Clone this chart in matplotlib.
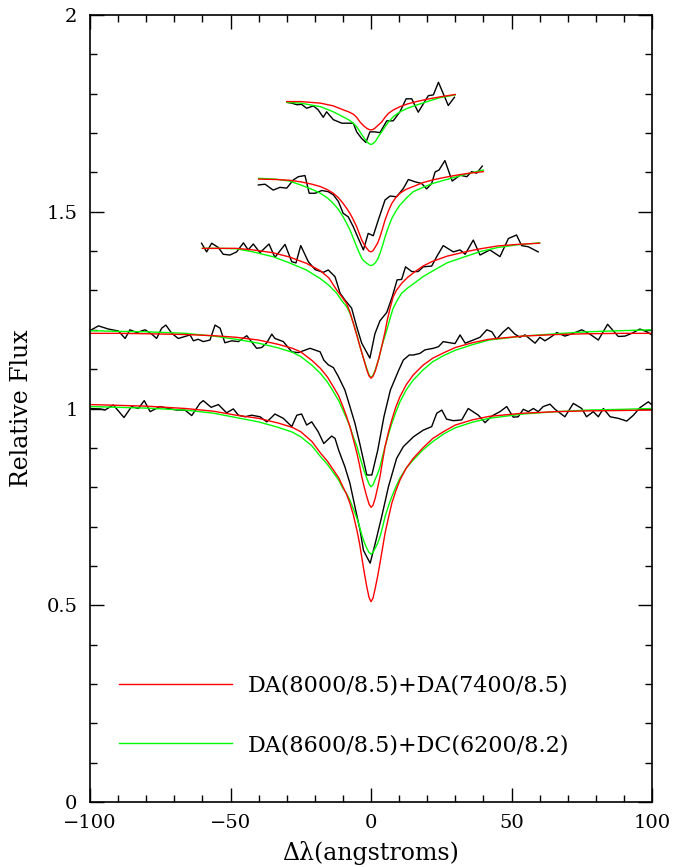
import matplotlib
matplotlib.use("Agg")
import matplotlib.pyplot as plt
from matplotlib.ticker import MultipleLocator, FuncFormatter

plt.rcParams['font.family'] = ['DejaVu Serif']

# observed spectra (black), offset by 0.2 each
spec_a_x = [-100, -96.4, -94.7, -91.7, -87.9, -85.2, -82.8, -80.7, -78.6, -75.1, -72.1, -69.1, -66.2, -63.8,
            -60.9, -59.7, -56.9, -54.3, -51.4, -49.0, -47.2, -44.8, -42.5, -39.5, -37.1, -35.3, -34.2, -31.2,
            -28.2, -26.4, -24.7, -22.9, -21.1, -18.8, -16.8, -14.0, -12.8, -11.5, -9.3, -7.5, -5.7, -3.9, -2.7,
            -1.5, -0.3, 1.5, 3.8, 6.2, 9.1, 11.5, 15.1, 18.6, 21.6, 23.4, 25.2, 26.9, 29.3, 32.3, 34.6, 38.2,
            40.6, 43.0, 45.9, 48.3, 50.6, 52.4, 54.2, 56.0, 57.8, 59.5, 61.3, 63.7, 65.5, 69.0, 72.0, 75.0,
            76.7, 79.1, 80.9, 82.7, 85.1, 88.0, 91.0, 93.4, 95.7, 98.7, 100]
spec_a_y = [1.000, 0.999, 0.996, 1.009, 0.977, 1.005, 1.000, 1.020, 0.992, 1.005, 1.000, 0.996, 0.996, 0.982,
            1.013, 1.020, 1.003, 1.010, 0.989, 0.999, 0.983, 0.979, 0.983, 0.979, 0.966, 0.978, 0.986, 0.975,
            0.954, 0.983, 0.986, 0.958, 0.966, 0.941, 0.911, 0.930, 0.924, 0.894, 0.852, 0.810, 0.750, 0.691,
            0.640, 0.623, 0.607, 0.657, 0.725, 0.801, 0.873, 0.903, 0.928, 0.945, 0.954, 0.988, 0.996, 0.973,
            0.969, 0.971, 1.000, 0.983, 0.964, 0.981, 0.992, 1.005, 0.978, 0.979, 0.998, 0.992, 1.000, 0.992,
            1.005, 1.011, 0.998, 0.979, 1.013, 1.000, 0.979, 0.992, 0.979, 1.000, 0.979, 0.975, 0.968, 0.983,
            1.002, 1.017, 1.009]

spec_b_x = [-100, -97.0, -93.5, -89.9, -87.5, -85.8, -83.4, -80.4, -78.0, -76.3, -74.5, -73.0, -70.9, -68.6,
            -66.2, -64.4, -63.2, -61.5, -59.7, -57.3, -55.5, -53.7, -52.0, -49.6, -47.2, -44.2, -40.7, -38.9,
            -37.1, -35.3, -34.2, -31.2, -28.2, -25.9, -21.7, -18.1, -16.8, -15.2, -13.4, -11.6, -9.3, -7.5,
            -5.7, -4.0, -1.5, 0.3, 2.4, 4.6, 6.9, 9.9, 11.5, 13.6, 15.1, 17.4, 19.2, 22.2, 24.0, 25.7, 28.1,
            29.9, 31.7, 33.5, 36.4, 38.8, 41.2, 43.0, 44.7, 47.1, 48.9, 51.2, 53.0, 54.8, 58.4, 60.1, 61.9,
            64.3, 66.1, 69.0, 72.0, 75.0, 77.9, 80.9, 84.2, 88.0, 90.4, 92.8, 95.7, 98.1, 100]
spec_b_y = [1.198, 1.210, 1.202, 1.197, 1.178, 1.200, 1.193, 1.200, 1.189, 1.178, 1.204, 1.212, 1.191, 1.178,
            1.183, 1.187, 1.172, 1.176, 1.170, 1.174, 1.212, 1.204, 1.167, 1.172, 1.170, 1.185, 1.153, 1.155,
            1.167, 1.189, 1.178, 1.170, 1.144, 1.142, 1.153, 1.144, 1.123, 1.111, 1.104, 1.081, 1.047, 1.005,
            0.962, 0.911, 0.831, 0.831, 0.894, 0.979, 1.047, 1.098, 1.123, 1.136, 1.136, 1.140, 1.149, 1.153,
            1.157, 1.170, 1.167, 1.165, 1.187, 1.166, 1.174, 1.181, 1.200, 1.195, 1.176, 1.195, 1.206, 1.189,
            1.181, 1.187, 1.166, 1.181, 1.172, 1.183, 1.193, 1.184, 1.191, 1.200, 1.189, 1.174, 1.214, 1.183,
            1.184, 1.191, 1.202, 1.195, 1.187]

spec_c_x = [-60.3, -58.5, -56.7, -54.3, -52.6, -50.2, -47.8, -45.4, -43.7, -41.9, -39.5, -36.3, -34.2, -30.6,
            -28.2, -26.7, -25.0, -22.3, -19.9, -17.0, -15.2, -12.8, -11.0, -9.3, -6.9, -5.1, -3.3, -0.4, 1.4,
            3.2, 5.6, 7.6, 9.3, 10.9, 12.3, 14.5, 16.8, 18.6, 21.6, 23.4, 25.7, 29.3, 31.7, 33.5, 36.4, 38.8,
            42.3, 45.9, 48.9, 51.8, 53.6, 56.0, 59.5]
spec_c_y = [1.420, 1.398, 1.420, 1.409, 1.392, 1.390, 1.398, 1.421, 1.403, 1.418, 1.396, 1.418, 1.384, 1.417,
            1.373, 1.370, 1.414, 1.373, 1.353, 1.346, 1.352, 1.335, 1.293, 1.276, 1.255, 1.208, 1.166, 1.128,
            1.190, 1.223, 1.244, 1.285, 1.327, 1.328, 1.360, 1.348, 1.348, 1.360, 1.362, 1.386, 1.414, 1.398,
            1.403, 1.392, 1.428, 1.390, 1.403, 1.386, 1.432, 1.441, 1.414, 1.411, 1.398]

spec_d_x = [-40.1, -37.7, -34.8, -32.4, -30.0, -27.6, -25.9, -23.5, -22.0, -19.9, -17.5, -15.2, -13.4, -11.6,
            -9.9, -8.1, -6.3, -4.5, -2.7, -1.0, 0.8, 2.6, 5.0, 6.8, 9.1, 11.5, 13.3, 15.7, 18.0, 19.8, 21.6,
            22.8, 24.2, 26.3, 28.9, 31.7, 34.1, 35.8, 37.6, 39.6]
spec_d_y = [1.568, 1.570, 1.555, 1.562, 1.560, 1.581, 1.589, 1.592, 1.547, 1.547, 1.554, 1.551, 1.543, 1.526,
            1.496, 1.487, 1.462, 1.432, 1.403, 1.445, 1.439, 1.479, 1.530, 1.540, 1.538, 1.559, 1.582, 1.576,
            1.572, 1.558, 1.572, 1.601, 1.606, 1.630, 1.578, 1.593, 1.589, 1.602, 1.598, 1.616]

spec_e_x = [-30.0, -28.2, -26.4, -24.7, -22.9, -20.5, -18.8, -17.0, -15.8, -13.4, -10.4, -8.7, -6.3, -5.1,
            -3.3, -1.8, -0.4, 1.4, 3.2, 5.6, 7.9, 10.3, 12.5, 14.5, 16.8, 20.4, 22.2, 24.0, 27.5, 29.7]
spec_e_y = [1.778, 1.776, 1.772, 1.773, 1.763, 1.769, 1.759, 1.740, 1.754, 1.734, 1.725, 1.725, 1.725, 1.703,
            1.686, 1.676, 1.703, 1.703, 1.701, 1.731, 1.731, 1.754, 1.787, 1.787, 1.753, 1.795, 1.797, 1.829,
            1.770, 1.791]

# model fits: red = DA+DA, green = DA+DC
model_ab_x = [-100, -90, -80, -66, -56, -48, -40, -33, -28, -25, -21, -18, -15.5, -13.4, -11.5, -10, -8.7,
              -7.5, -6.3, -5, -4.1, -3.3, -2.4, -1.5, -0.7, 0, 0.7, 1.5, 2.4, 3.2, 4.1, 5, 6.2, 7.4, 8.8,
              10.3, 12.5, 15, 18.5, 22, 26, 30, 36, 42, 54, 66, 77, 90, 100]
red_a = [1.010, 1.008, 1.006, 1.000, 0.993, 0.983, 0.975, 0.963, 0.952, 0.941, 0.916, 0.887, 0.866, 0.844,
         0.824, 0.801, 0.782, 0.759, 0.730, 0.690, 0.658, 0.623, 0.583, 0.547, 0.520, 0.509, 0.518, 0.543,
         0.575, 0.607, 0.645, 0.683, 0.722, 0.759, 0.790, 0.818, 0.848, 0.873, 0.900, 0.924, 0.942, 0.958,
         0.971, 0.980, 0.988, 0.992, 0.994, 0.995, 0.996]
green_a = [1.005, 1.003, 1.001, 0.996, 0.988, 0.977, 0.966, 0.952, 0.940, 0.928, 0.905, 0.878, 0.858, 0.837,
           0.818, 0.797, 0.784, 0.767, 0.745, 0.721, 0.700, 0.679, 0.660, 0.645, 0.634, 0.630, 0.634, 0.645,
           0.658, 0.674, 0.698, 0.725, 0.752, 0.776, 0.800, 0.823, 0.848, 0.869, 0.895, 0.916, 0.936, 0.951,
           0.965, 0.975, 0.986, 0.992, 0.996, 0.998, 1.000]
red_b = [1.191, 1.191, 1.190, 1.188, 1.185, 1.181, 1.174, 1.163, 1.153, 1.144, 1.122, 1.102, 1.080, 1.055,
         1.032, 1.005, 0.980, 0.954, 0.922, 0.886, 0.857, 0.827, 0.800, 0.776, 0.757, 0.749, 0.754, 0.772,
         0.800, 0.827, 0.866, 0.903, 0.940, 0.971, 1.003, 1.030, 1.060, 1.085, 1.110, 1.128, 1.142, 1.155,
         1.167, 1.176, 1.184, 1.188, 1.190, 1.191, 1.191]
green_b = [1.198, 1.196, 1.195, 1.191, 1.184, 1.176, 1.166, 1.154, 1.143, 1.132, 1.110, 1.089, 1.067, 1.043,
           1.020, 0.996, 0.975, 0.954, 0.928, 0.903, 0.880, 0.861, 0.840, 0.823, 0.808, 0.801, 0.806, 0.820,
           0.835, 0.852, 0.878, 0.903, 0.934, 0.962, 0.990, 1.017, 1.047, 1.072, 1.098, 1.119, 1.135, 1.148,
           1.162, 1.174, 1.184, 1.190, 1.195, 1.198, 1.200]

model_c_x = [-60, -54, -48, -42, -35, -29, -23, -18, -15, -12.2, -10.5, -8.7, -7.5, -6.3, -5, -3.9, -2.7,
             -1.5, -0.7, 0, 0.7, 1.5, 2.7, 3.8, 5, 5.8, 6.9, 7.9, 9.1, 10.9, 13, 15.7, 18.5, 21.6, 27, 33.5,
             39, 45, 52, 60]
red_c = [1.407, 1.407, 1.407, 1.403, 1.396, 1.385, 1.369, 1.350, 1.332, 1.301, 1.285, 1.267, 1.245, 1.217,
         1.185, 1.157, 1.128, 1.098, 1.083, 1.077, 1.082, 1.095, 1.125, 1.157, 1.195, 1.225, 1.258, 1.284,
         1.301, 1.318, 1.333, 1.348, 1.362, 1.373, 1.387, 1.398, 1.406, 1.413, 1.417, 1.420]
green_c = [1.407, 1.407, 1.406, 1.398, 1.386, 1.370, 1.352, 1.330, 1.313, 1.293, 1.275, 1.259, 1.242, 1.217,
           1.187, 1.157, 1.128, 1.102, 1.085, 1.079, 1.084, 1.098, 1.125, 1.157, 1.185, 1.204, 1.232, 1.255,
           1.272, 1.293, 1.306, 1.320, 1.335, 1.348, 1.370, 1.386, 1.399, 1.409, 1.416, 1.421]

model_d_x = [-40, -34, -29, -25, -21, -18, -15.5, -13.4, -11.5, -9.9, -8.7, -7.5, -6.3, -5.1, -4.2, -3.3,
             -2.4, -1.5, -0.7, 0, 0.7, 1.5, 2.4, 3.2, 4.1, 5, 6.2, 7.4, 8.8, 10.3, 12.5, 15, 18.5, 22, 26,
             30.5, 35, 40]
red_d = [1.583, 1.582, 1.580, 1.576, 1.570, 1.564, 1.556, 1.547, 1.535, 1.521, 1.509, 1.496, 1.480, 1.462,
         1.445, 1.428, 1.416, 1.407, 1.400, 1.398, 1.401, 1.410, 1.421, 1.436, 1.457, 1.479, 1.502, 1.521,
         1.536, 1.547, 1.557, 1.564, 1.574, 1.581, 1.587, 1.593, 1.598, 1.602]
green_d = [1.585, 1.583, 1.578, 1.568, 1.557, 1.547, 1.535, 1.521, 1.505, 1.487, 1.471, 1.454, 1.433, 1.411,
           1.396, 1.382, 1.374, 1.369, 1.365, 1.363, 1.365, 1.370, 1.380, 1.394, 1.414, 1.436, 1.461, 1.483,
           1.501, 1.517, 1.534, 1.551, 1.562, 1.572, 1.580, 1.589, 1.598, 1.606]

model_e_x = [-30, -25, -18, -13.4, -9.9, -8, -6.3, -5.1, -3.9, -2.7, -1.5, -0.7, 0, 0.7, 1.5, 2.7, 3.8, 5,
             6.2, 8, 10.3, 13, 16.2, 20, 24.6, 30]
red_e = [1.780, 1.780, 1.776, 1.769, 1.759, 1.754, 1.748, 1.740, 1.728, 1.719, 1.712, 1.709, 1.708, 1.709,
         1.713, 1.721, 1.728, 1.740, 1.750, 1.759, 1.767, 1.774, 1.780, 1.786, 1.792, 1.798]
green_e = [1.778, 1.776, 1.767, 1.754, 1.741, 1.734, 1.725, 1.716, 1.703, 1.690, 1.678, 1.673, 1.671, 1.673,
           1.678, 1.692, 1.703, 1.716, 1.728, 1.742, 1.754, 1.763, 1.771, 1.780, 1.790, 1.797]

labels = ['DA(8000/8.5)+DA(7400/8.5)', 'DA(8600/8.5)+DC(6200/8.2)']

fig = plt.figure(figsize=(6.92, 8.67), dpi=100)
ax = fig.add_axes([90 / 692, 65 / 867, 562 / 692, 787 / 867])

spectra = [(spec_a_x, spec_a_y), (spec_b_x, spec_b_y), (spec_c_x, spec_c_y),
           (spec_d_x, spec_d_y), (spec_e_x, spec_e_y)]
models = [(model_ab_x, red_a, green_a), (model_ab_x, red_b, green_b), (model_c_x, red_c, green_c),
          (model_d_x, red_d, green_d), (model_e_x, red_e, green_e)]

lw = 1.0
for sx, sy in spectra:
    ax.plot(sx, sy, color='black', lw=lw)
for mx, r, g in models:
    ax.plot(mx, g, color='#00ff00', lw=lw)
    ax.plot(mx, r, color='#ff0000', lw=lw)

# legend entries only
h1, = ax.plot([], [], color='#ff0000', lw=lw, label=labels[0])
h2, = ax.plot([], [], color='#00ff00', lw=lw, label=labels[1])
ax.legend(handles=[h1, h2], loc='center left', bbox_to_anchor=(0.0516, 0.110), frameon=False,
          fontsize=16, handlelength=5.09, handletextpad=0.72, labelspacing=1.68,
          borderpad=0, borderaxespad=0)

ax.set_xlim(-100, 100)
ax.set_ylim(0, 2)
ax.xaxis.set_major_locator(MultipleLocator(50))
ax.xaxis.set_minor_locator(MultipleLocator(10))
ax.yaxis.set_major_locator(MultipleLocator(0.5))
ax.yaxis.set_minor_locator(MultipleLocator(0.1))
ax.yaxis.set_major_formatter(FuncFormatter(lambda v, p: '%g' % v))
ax.xaxis.set_major_formatter(FuncFormatter(lambda v, p: ('%g' % v).replace('-', '\u2212')))
ax.tick_params(which='both', direction='in', top=True, right=True, width=1.0, labelsize=14)
ax.tick_params(which='major', length=10, pad=9)
ax.tick_params(which='minor', length=5)
for s in ax.spines.values():
    s.set_linewidth(1.2)

ax.set_xlabel('\u0394\u03bb(angstroms)', fontsize=17, labelpad=6)
ax.set_ylabel('Relative Flux', fontsize=17, labelpad=10)

fig.savefig('out.png', dpi=100)
